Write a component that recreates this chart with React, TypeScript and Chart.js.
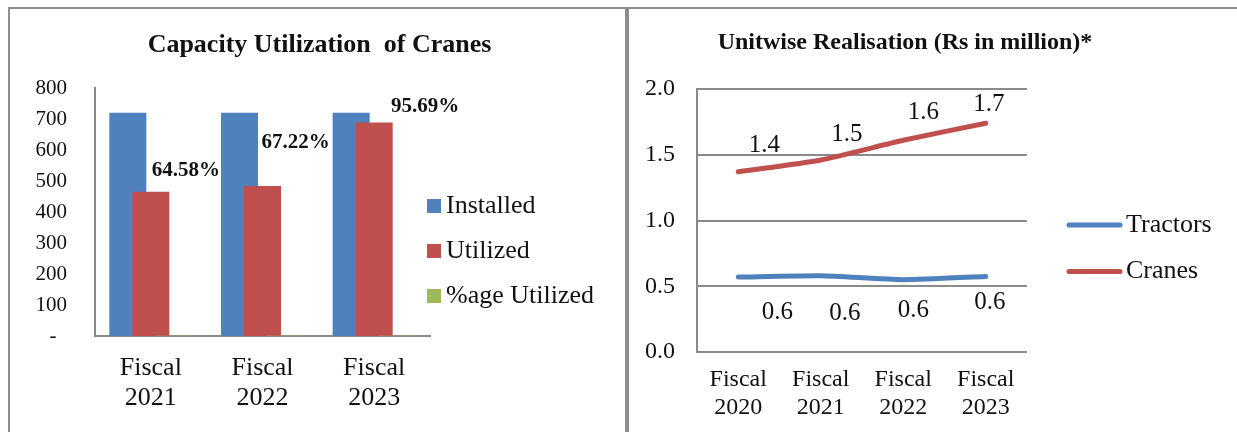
import React, { useEffect, useRef } from "react";
import { Chart, registerables } from "chart.js";

Chart.register(...registerables);

const SERIF = "'Liberation Serif', 'Times New Roman', Times, serif";
const INK = "#111111";
const AXIS_GREY = "#8a8a8a";
const BLUE = "#4F81BD";
const RED = "#C0504D";
const GREEN = "#9BBB59";

// Capacity utilization of cranes
const craneYears = [
  ["Fiscal", "2021"],
  ["Fiscal", "2022"],
  ["Fiscal", "2023"],
];
const installedCapacity = [720, 720, 720];
const utilizedCapacity = [465, 484, 689];
const utilizedShare = [0.6458, 0.6722, 0.9569];
const capacityTickStep = 100;
const capacityMax = 800;

// Unitwise realisation (Rs in million)
const realisationYears = [
  ["Fiscal", "2020"],
  ["Fiscal", "2021"],
  ["Fiscal", "2022"],
  ["Fiscal", "2023"],
];
const tractorRealisation = [0.57, 0.58, 0.55, 0.575];
const craneRealisation = [1.37, 1.46, 1.61, 1.74];
const realisationTickStep = 0.5;
const realisationMax = 2;

// label nudges (px) relative to the mark they describe
const shareLabelNudge = [
  [35, -21],
  [33, -43],
  [51, -16],
];
const craneLabelNudge = [
  [26, -26],
  [26, -26],
  [20, -28],
  [3, -19],
];
const tractorLabelNudge = [
  [39, 35],
  [24, 38],
  [10, 31],
  [4, 26],
];

const capacityDecor = {
  id: "capacityDecor",
  // paint the bar series in declaration order so later series overlap earlier ones
  beforeDatasetsDraw(chart: any) {
    chart.data.datasets.forEach((_: any, i: number) => {
      chart.getDatasetMeta(i).controller.draw();
    });
    return false;
  },
  afterDraw(chart: any) {
    const ctx = chart.ctx as CanvasRenderingContext2D;
    ctx.save();
    // title
    ctx.fillStyle = INK;
    ctx.textAlign = "center";
    ctx.textBaseline = "middle";
    ctx.font = `bold 26px ${SERIF}`;
    ctx.fillText("Capacity Utilization  of Cranes", 309.5, 35);

    // percentage labels above the utilized bars
    const util = chart.getDatasetMeta(1).data;
    ctx.font = `bold 21px ${SERIF}`;
    utilizedShare.forEach((v, i) => {
      const bar = util[i];
      const [dx, dy] = shareLabelNudge[i];
      ctx.fillText(`${(v * 100).toFixed(2)}%`, bar.x + dx, bar.y + dy);
    });

    // legend
    ctx.textAlign = "left";
    ctx.font = `26px ${SERIF}`;
    const rows = [196, 241, 286];
    chart.data.datasets.forEach((ds: any, i: number) => {
      const y = rows[i];
      ctx.fillStyle = ds.backgroundColor;
      ctx.fillRect(417, y - 7, 14, 14);
      ctx.fillStyle = INK;
      ctx.fillText(ds.label, 436, y);
    });
    ctx.restore();
  },
};

const realisationDecor = {
  id: "realisationDecor",
  afterDraw(chart: any) {
    const ctx = chart.ctx as CanvasRenderingContext2D;
    ctx.save();
    ctx.fillStyle = INK;
    ctx.textAlign = "center";
    ctx.textBaseline = "middle";
    ctx.font = `bold 24px ${SERIF}`;
    ctx.fillText("Unitwise Realisation (Rs in million)*", 275, 33);

    // value labels
    ctx.font = `25px ${SERIF}`;
    const nudges = [tractorLabelNudge, craneLabelNudge];
    [tractorRealisation, craneRealisation].forEach((series, d) => {
      const pts = chart.getDatasetMeta(d).data;
      series.forEach((v, i) => {
        const [dx, dy] = nudges[d][i];
        ctx.fillText(v.toFixed(1), pts[i].x + dx, pts[i].y + dy);
      });
    });

    // legend
    ctx.textAlign = "left";
    ctx.font = `26px ${SERIF}`;
    ctx.lineCap = "round";
    ctx.lineWidth = 5;
    const rows = [215, 261.5];
    chart.data.datasets.forEach((ds: any, i: number) => {
      const y = rows[i];
      ctx.strokeStyle = ds.borderColor;
      ctx.beginPath();
      ctx.moveTo(439, y);
      ctx.lineTo(490, y);
      ctx.stroke();
      ctx.fillStyle = INK;
      ctx.fillText(ds.label, 496, y);
    });
    ctx.restore();
  },
};

function CapacityChart() {
  const ref = useRef<HTMLCanvasElement>(null);
  useEffect(() => {
    if (!ref.current) return;
    const chart = new Chart(ref.current, {
      type: "bar",
      data: {
        labels: craneYears,
        datasets: [
          { label: "Installed", data: installedCapacity, backgroundColor: BLUE },
          { label: "Utilized", data: utilizedCapacity, backgroundColor: RED },
          { label: "%age Utilized", data: utilizedShare, backgroundColor: GREEN },
        ],
      },
      options: {
        responsive: false,
        animation: false,
        events: [],
        devicePixelRatio: 1,
        layout: { padding: { top: 78, right: 195, left: 0, bottom: 0 } },
        datasets: {
          bar: { categoryPercentage: 0.618, barPercentage: 1.61 },
        },
        plugins: {
          legend: { display: false },
          title: { display: false },
          tooltip: { enabled: false },
        },
        scales: {
          x: {
            grid: { display: false, drawTicks: false },
            border: { display: true, color: AXIS_GREY, width: 2 },
            ticks: {
              color: INK,
              padding: 17,
              maxRotation: 0,
              autoSkip: false,
              font: { family: SERIF, size: 26, lineHeight: "30px" },
            },
            afterFit: (s: any) => {
              s.height = 96;
            },
          },
          y: {
            min: 0,
            max: capacityMax,
            grid: { display: false, drawTicks: false },
            border: { display: true, color: AXIS_GREY, width: 2 },
            ticks: {
              stepSize: capacityTickStep,
              color: INK,
              padding: 28,
              font: { family: SERIF, size: 21 },
              callback: (v: any) => (Number(v) === 0 ? "-  " : String(v)),
            },
            afterFit: (s: any) => {
              s.width = 85;
            },
          },
        },
      },
      plugins: [capacityDecor],
    });
    return () => chart.destroy();
  }, []);
  return (
    <canvas
      ref={ref}
      width={615}
      height={422}
      style={{ position: "absolute", left: 10, top: 10 }}
    />
  );
}

function RealisationChart() {
  const ref = useRef<HTMLCanvasElement>(null);
  useEffect(() => {
    if (!ref.current) return;
    const chart = new Chart(ref.current, {
      type: "line",
      data: {
        labels: realisationYears,
        datasets: [
          {
            label: "Tractors",
            data: tractorRealisation,
            borderColor: BLUE,
            backgroundColor: BLUE,
            borderWidth: 5,
            pointRadius: 0,
            tension: 0.2,
            borderCapStyle: "round",
            borderJoinStyle: "round",
          },
          {
            label: "Cranes",
            data: craneRealisation,
            borderColor: RED,
            backgroundColor: RED,
            borderWidth: 5,
            pointRadius: 0,
            tension: 0.2,
            borderCapStyle: "round",
            borderJoinStyle: "round",
          },
        ],
      },
      options: {
        responsive: false,
        animation: false,
        events: [],
        devicePixelRatio: 1,
        layout: { padding: { top: 79, right: 210, left: 0, bottom: 0 } },
        plugins: {
          legend: { display: false },
          title: { display: false },
          tooltip: { enabled: false },
        },
        scales: {
          x: {
            offset: true,
            grid: { display: false, drawTicks: false },
            border: { display: false },
            ticks: {
              color: INK,
              padding: 14,
              maxRotation: 0,
              autoSkip: false,
              font: { family: SERIF, size: 24, lineHeight: "28px" },
            },
            afterFit: (s: any) => {
              s.height = 80;
            },
          },
          y: {
            min: 0,
            max: realisationMax,
            grid: { display: true, drawTicks: false, color: AXIS_GREY, lineWidth: 2 },
            border: { display: true, color: AXIS_GREY, width: 2 },
            ticks: {
              stepSize: realisationTickStep,
              color: INK,
              padding: 22,
              font: { family: SERIF, size: 24 },
              callback: (v: any) => Number(v).toFixed(1),
            },
            afterFit: (s: any) => {
              s.width = 67;
            },
          },
        },
      },
      plugins: [realisationDecor],
    });
    return () => chart.destroy();
  }, []);
  return (
    <canvas
      ref={ref}
      width={607}
      height={422}
      style={{ position: "absolute", left: 630, top: 10 }}
    />
  );
}

export default function App() {
  const rule = "#8c8c8c";
  return (
    <div
      style={{
        position: "fixed",
        left: 0,
        top: 0,
        width: 1237,
        height: 432,
        background: "#ffffff",
        overflow: "hidden",
      }}
    >
      <div style={{ position: "absolute", left: 8, top: 7, width: 1229, height: 2, background: rule }} />
      <div style={{ position: "absolute", left: 8, top: 7, width: 2, height: 425, background: rule }} />
      <div style={{ position: "absolute", left: 625, top: 7, width: 4, height: 425, background: rule }} />
      <CapacityChart />
      <RealisationChart />
    </div>
  );
}
